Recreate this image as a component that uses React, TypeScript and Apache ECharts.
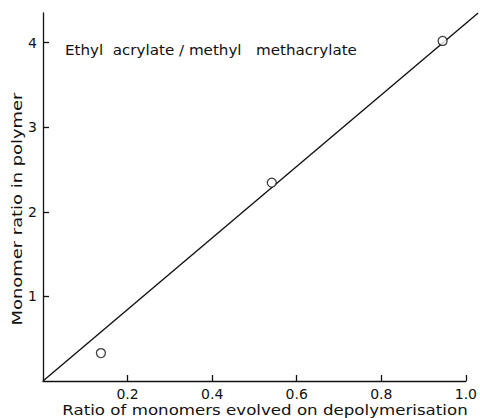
import React, { useEffect, useRef } from "react";
import * as echarts from "echarts";

// Measured points: ratio evolved on depolymerisation vs ratio in polymer
const evolvedRatio = [0.137, 0.541, 0.945];
const polymerRatio = [0.33, 2.345, 4.02];

// Fitted straight line through the origin (runs a little past the x-axis end)
const fitX = [0, 1.029];
const fitY = [0, 4.35];

const xTicks = [0.2, 0.4, 0.6, 0.8, 1.0];
const yTicks = [1, 2, 3, 4];

const FONT = "DejaVu Sans";
const INK = "#111";

export default function App() {
  const ref = useRef<HTMLDivElement>(null);

  useEffect(() => {
    if (!ref.current) return;
    const chart = echarts.init(ref.current, null, { renderer: "svg" });
    const labels = [
      {
        type: "text",
        x: 65,
        y: 50,
        scaleX: 1.08,
        style: {
          text: "Ethyl  acrylate / methyl   methacrylate",
          font: `14px "${FONT}"`,
          fill: INK,
          textAlign: "left",
          textVerticalAlign: "middle",
        },
      },
      {
        type: "text",
        x: 265,
        y: 410,
        scaleX: 1.19,
        style: {
          text: "Ratio of monomers evolved on depolymerisation",
          font: `14px "${FONT}"`,
          fill: INK,
          textAlign: "center",
          textVerticalAlign: "middle",
        },
      },
      {
        type: "text",
        x: 17,
        y: 209,
        rotation: Math.PI / 2,
        scaleX: 1.28,
        style: {
          text: "Monomer ratio in polymer",
          font: `14px "${FONT}"`,
          fill: INK,
          textAlign: "center",
          textVerticalAlign: "middle",
        },
      },
    ];
    chart.setOption({
      animation: false,
      backgroundColor: "#fff",
      grid: { left: 43, right: 12, top: 13, bottom: 37, containLabel: false },
      xAxis: {
        type: "value",
        min: 0,
        max: 1.0,
        interval: 0.2,
        axisLine: { show: true, lineStyle: { color: INK, width: 1.3 } },
        axisTick: { show: true, inside: true, length: 6, lineStyle: { color: INK, width: 1.3 } },
        axisLabel: {
          showMinLabel: false,
          margin: 6,
          fontFamily: FONT,
          fontSize: 14,
          color: INK,
          formatter: (v: number) => (xTicks.includes(Math.round(v * 10) / 10) ? v.toFixed(1) : ""),
        },
        splitLine: { show: false },
      },
      yAxis: {
        type: "value",
        min: 0,
        max: 4.35,
        interval: 1,
        axisLine: { show: true, lineStyle: { color: INK, width: 1.3 } },
        axisTick: { show: true, inside: true, length: 6, lineStyle: { color: INK, width: 1.3 } },
        axisLabel: {
          showMinLabel: false,
          showMaxLabel: false,
          margin: 6,
          fontFamily: FONT,
          fontSize: 14,
          color: INK,
          formatter: (v: number) => (yTicks.includes(v) ? String(v) : ""),
        },
        splitLine: { show: false },
      },
      graphic: labels,
      series: [
        {
          type: "scatter",
          data: evolvedRatio.map((x, i) => [x, polymerRatio[i]]),
          symbol: "circle",
          symbolSize: 9,
          itemStyle: { color: "#fff", borderColor: INK, borderWidth: 1.3 },
          z: 5,
        },
      ],
    });

    // The fitted line leaves the plotting area on the right, so it is placed
    // through the grid's own scales rather than as a clipped series.
    const p0 = chart.convertToPixel({ gridIndex: 0 }, [fitX[0], fitY[0]]) as number[];
    const p1 = chart.convertToPixel({ gridIndex: 0 }, [fitX[1], fitY[1]]) as number[];
    chart.setOption({
      graphic: [
        ...labels,
        {
          type: "line",
          z: 1,
          shape: { x1: p0[0], y1: p0[1], x2: p1[0], y2: p1[1] },
          style: { stroke: INK, lineWidth: 1.4 },
        },
      ],
    });
    return () => chart.dispose();
  }, []);

  return (
    <div
      ref={ref}
      style={{ position: "fixed", left: 0, top: 0, width: 480, height: 418 }}
    />
  );
}
